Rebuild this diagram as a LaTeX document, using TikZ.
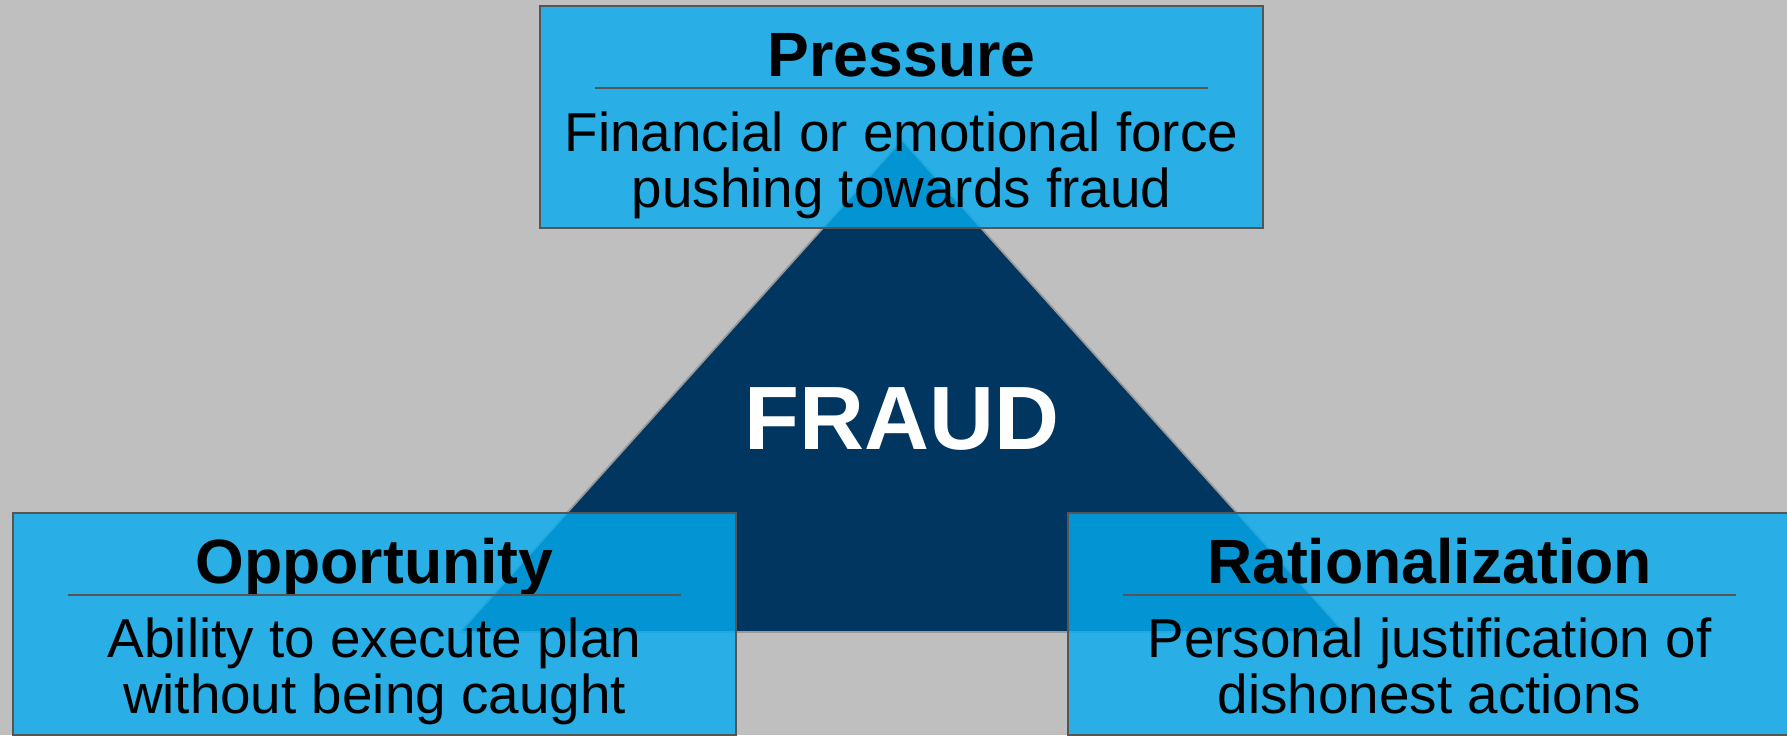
\documentclass[tikz,border=0pt]{standalone}
\usepackage{fontspec}
\setmainfont{Liberation Sans}

\definecolor{bggray}{RGB}{191,191,191}
\definecolor{navy}{RGB}{0,54,96}
\definecolor{skyblue}{RGB}{4,172,240}
\definecolor{edgegray}{RGB}{85,85,85}

\tikzset{
  sidebox/.style={draw=edgegray, line width=0.6pt, fill=skyblue, fill opacity=0.8,
    minimum width=7.23cm, minimum height=2.22cm, inner sep=0pt},
  headtext/.style={anchor=base, inner sep=0pt, font=\fontsize{17.8}{20}\selectfont\bfseries},
  bodytext/.style={anchor=north, inner sep=0pt, align=center, font=\fontsize{15.6}{16}\selectfont},
  sepline/.style={draw=edgegray, line width=0.6pt}
}

\begin{document}
\begin{tikzpicture}
%\draw[help lines] (0,0) grid (18,7);
\useasboundingbox (0,0) rectangle (17.87,7.35);
\fill[bggray] (0,0) rectangle (17.87,7.35);
\clip (0,0) rectangle (17.87,7.35);

\coordinate (apex) at (9.02,5.95);
\coordinate (bl) at (4.60,1.03);
\coordinate (br) at (13.44,1.03);
\filldraw[fill=navy,draw=gray!80,line width=0.5pt] (apex) -- (bl) -- (br) -- cycle;
\node[white,font=\fontsize{25.6}{28}\selectfont\bfseries] (fraud) at (9.02,3.16) {FRAUD};

\node[sidebox] (pres) at (9.015,6.18) {};
\node[sidebox] (opp) at (3.745,1.11) {};
\node[sidebox] (rat) at (14.295,1.11) {};

\node[headtext] (pres-t) at ([yshift=-0.72cm]pres.north) {Pressure};
\draw[sepline] ([xshift=0.56cm,yshift=-0.83cm]pres.north west) -- ([xshift=-0.56cm,yshift=-0.83cm]pres.north east);
\node[bodytext] (pres-d) at ([yshift=-1.06cm]pres.north) {Financial or emotional force\\pushing towards fraud};

\node[headtext] (opp-t) at ([yshift=-0.72cm]opp.north) {Opportunity};
\draw[sepline] ([xshift=0.56cm,yshift=-0.83cm]opp.north west) -- ([xshift=-0.56cm,yshift=-0.83cm]opp.north east);
\node[bodytext] (opp-d) at ([yshift=-1.05cm]opp.north) {Ability to execute plan\\without being caught};

\node[headtext] (rat-t) at ([yshift=-0.72cm]rat.north) {Rationalization};
\draw[sepline] ([xshift=0.56cm,yshift=-0.83cm]rat.north west) -- ([xshift=-0.56cm,yshift=-0.83cm]rat.north east);
\node[bodytext] (rat-d) at ([yshift=-1.05cm]rat.north) {Personal justification of\\dishonest actions};
\end{tikzpicture}
\end{document}
